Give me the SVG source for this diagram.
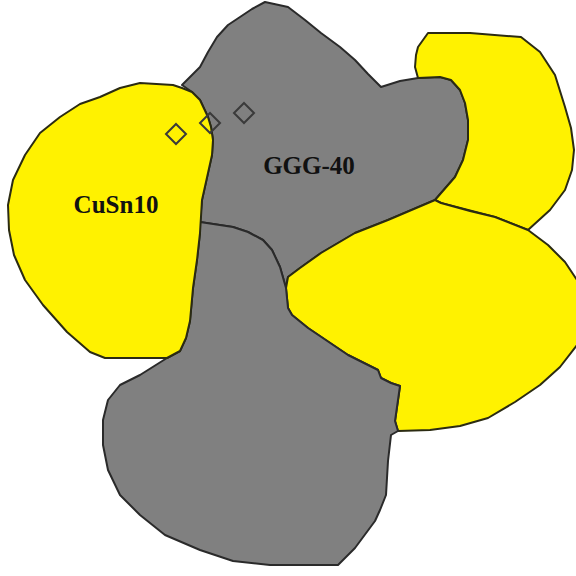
<svg xmlns="http://www.w3.org/2000/svg" width="576" height="576" viewBox="0 0 576 576">
<style>
.y{fill:#FFF200;stroke:#2b2b12;stroke-width:2;stroke-linejoin:round}
.g{fill:#808080;stroke:#2a2a2a;stroke-width:2;stroke-linejoin:round}
.d{fill:none;stroke:#3a3a3a;stroke-width:2}
.t{font-family:"Liberation Serif",serif;font-weight:bold;font-size:25px;fill:#111;text-anchor:middle}
</style>
<rect width="576" height="576" fill="#fff"/>
<g id="ggg40-upper">
<polygon class="g" points="265,2 288,7 305,20 321,33 340,47 355,60 368,74 381,87 400,81 418,78 440,77 451,80 460,90 465,103 468,120 468,140 463,160 455,177 435,200 388,220 355,233 321,253 300,268 288,277 286,288 280,267 272,250 263,240 248,232 233,227 200,222 202,200 208,173 212,155 213,140 211,127 208,117 200,100 192,92 182,85 192,75 200,67 208,52 217,37 228,25 240,17 252,9"/>
</g>
<g id="yellow-topright">
<polygon class="y" points="418,78 415,67 416,55 418,47 428,33 470,33 521,37 540,52 555,75 565,107 571,128 574,150 572,170 565,190 550,210 528,230 495,217 441,203 435,200 455,177 463,160 468,140 468,120 465,103 460,90 451,80 440,77"/>
</g>
<g id="yellow-right">
<polygon class="y" points="286,288 288,277 300,268 321,253 355,233 388,220 435,200 441,203 470,211 495,217 528,230 548,245 565,262 577,280 577,345 560,367 540,385 515,402 488,418 460,426 430,430 398,431 395,421 400,386 391,383 381,378 378,370 348,355 308,328 292,315 288,308"/>
</g>
<g id="ggg40-lower">
<polygon class="g" points="200,222 233,227 248,232 263,240 272,250 280,267 286,288 288,308 292,315 308,328 348,355 378,370 381,378 391,383 400,386 395,421 398,431 391,435 388,461 386,495 380,510 375,521 355,548 338,565 288,565 270,565 233,561 200,550 165,535 140,515 120,495 108,470 103,445 103,420 108,400 120,385 140,375 167,358 180,351 186,338 190,321 193,288 197,260 200,233"/>
</g>
<g id="cusn10">
<polygon class="y" points="140,83 173,85 182,88 192,92 200,100 208,117 211,127 213,140 212,155 208,173 202,200 200,233 197,260 193,288 190,321 186,338 180,351 167,358 105,358 90,352 67,332 43,305 25,280 14,255 9,230 8,205 13,180 25,155 40,133 60,117 80,104 100,97 120,88"/>
<text class="t" x="116" y="213">CuSn10</text>
</g>
<g id="ggg40-label">
<text class="t" x="309" y="174">GGG-40</text>
</g>
<g id="markers">
<polygon class="d" points="176,124 186,134 176,144 166,134"/>
<polygon class="d" points="210,113 220,123 210,133 200,123"/>
<polygon class="d" points="244,103 254,113 244,123 234,113"/>
</g>
</svg>
